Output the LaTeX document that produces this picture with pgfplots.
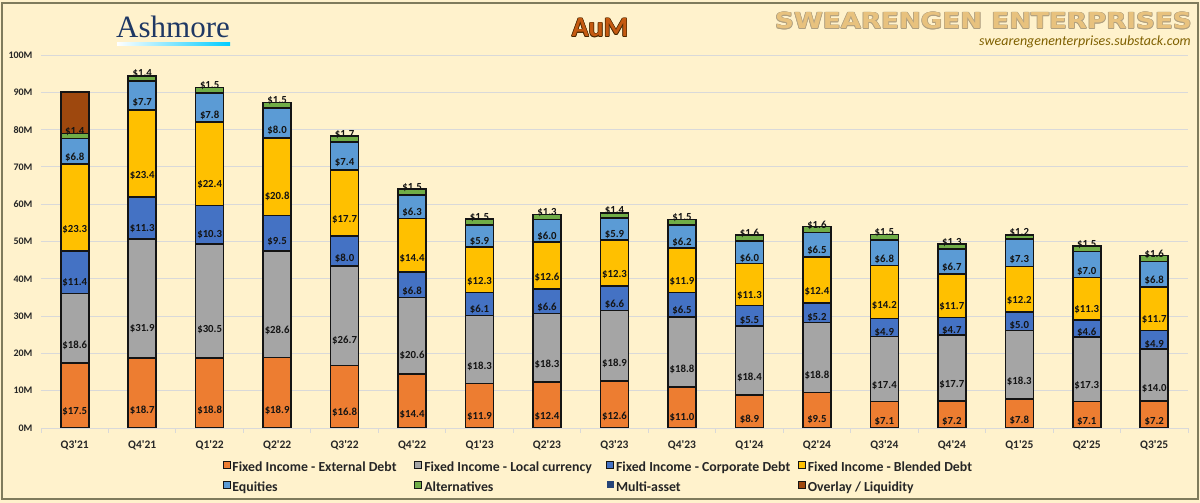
\documentclass[border=0pt]{standalone}
\usepackage{pgfplots}
\pgfplotsset{compat=1.18}
\usepackage{pgfplotstable}
\usepackage{fontspec}
\setmainfont{Carlito}
\newfontfamily\seriffont{Liberation Serif}
\newfontfamily\widefont{DejaVu Sans}
\definecolor{bg}{HTML}{FFF2CC}
\definecolor{gridc}{HTML}{D9D9D9}
\definecolor{cExt}{HTML}{ED7D31}
\definecolor{cLoc}{HTML}{A5A5A5}
\definecolor{cCorp}{HTML}{4472C4}
\definecolor{cBlend}{HTML}{FFC000}
\definecolor{cEq}{HTML}{5B9BD5}
\definecolor{cAlt}{HTML}{70AD47}
\definecolor{cMulti}{HTML}{264478}
\definecolor{cOver}{HTML}{9E480E}
\definecolor{titlec}{HTML}{C55A11}
\definecolor{titleline}{HTML}{4A2800}
\definecolor{framec}{HTML}{7F7B5C}
\definecolor{navy}{HTML}{1F3864}
\definecolor{wm}{HTML}{E8C27E}
\definecolor{wmline}{HTML}{B0A080}
\definecolor{urlc}{HTML}{7F6000}
\definecolor{tickc}{HTML}{262626}
\definecolor{barline}{HTML}{141414}

\pgfplotstableread{
x ext loc corp blend eq alt over
0 17.5 18.6 11.4 23.3 6.8 1.4 11.0
1 18.7 31.9 11.3 23.4 7.7 1.4 0
2 18.8 30.5 10.3 22.4 7.8 1.5 0
3 18.9 28.6 9.5 20.8 8.0 1.5 0
4 16.8 26.7 8.0 17.7 7.4 1.7 0
5 14.4 20.6 6.8 14.4 6.3 1.5 0
6 11.9 18.3 6.1 12.3 5.9 1.5 0
7 12.4 18.3 6.6 12.6 6.0 1.3 0
8 12.6 18.9 6.6 12.3 5.9 1.4 0
9 11.0 18.8 6.5 11.9 6.2 1.5 0
10 8.9 18.4 5.5 11.3 6.0 1.6 0
11 9.5 18.8 5.2 12.4 6.5 1.6 0
12 7.1 17.4 4.9 14.2 6.8 1.5 0
13 7.2 17.7 4.7 11.7 6.7 1.3 0
14 7.8 18.3 5.0 12.2 7.3 1.2 0
15 7.1 17.3 4.6 11.3 7.0 1.5 0
16 7.2 14.0 4.9 11.7 6.8 1.6 0
}\aum

\newcommand\q{\textquotesingle}
\newcommand\lgbox[1]{\makebox[180pt][l]{#1}}
\pgfplotsset{
  barsty/.style={draw=barline, line width=1.6pt, fill=#1,
    legend image code/.code={\draw[fill=#1, draw=barline, line width=0.8pt] (0pt,-0.5pt) rectangle (7pt,6.5pt);}},
  seg/.style={
    nodes near coords={\$\pgfplotspointmeta},
    point meta=explicit symbolic,
    every node near coord/.append style={anchor=center, yshift={-0.25*\pgfplotspointmeta*3.73pt}, font=\bfseries\fontsize{10.8}{12}\selectfont, text=barline, inner sep=1pt},
  },
}

\begin{document}
\begin{tikzpicture}
\useasboundingbox (0,0) rectangle (1200pt,503pt);
\fill[bg] (0,0) rectangle (1200pt,503pt);
\draw[framec, line width=1.5pt] (2pt,4pt) rectangle (1198pt,500pt);
% logo
\node[anchor=base west, inner sep=0, text=navy, font=\seriffont\fontsize{31}{31}\selectfont] at (116pt,465pt) {Ashmore};
\shade[left color=white, right color=cyan!80!blue] (117pt,457.5pt) rectangle (230pt,460.5pt);
% title with faux outline
\foreach \dx/\dy in {0.7/0,-0.7/0,0/0.7,0/-0.7,0.5/0.5,-0.5/0.5,0.5/-0.5,-0.5/-0.5}{
  \node[anchor=base, inner sep=0, text=titleline, font=\bfseries\fontsize{28}{28}\selectfont] at (600pt+\dx pt,466pt+\dy pt) {AuM};
}
\node[anchor=base, inner sep=0, text=titlec, font=\bfseries\fontsize{28}{28}\selectfont] at (600pt,466pt) {AuM};
% watermark
\foreach \dx/\dy in {0.7/0,-0.7/0,0/0.7,0/-0.7,0.5/0.5,-0.5/0.5,0.5/-0.5,-0.5/-0.5}{
  \node[anchor=base east, inner sep=0, text=wmline, xscale=1.19, font=\widefont\bfseries\fontsize{22}{22}\selectfont] at (1192pt+\dx pt,474pt+\dy pt) {SWEARENGEN ENTERPRISES};
}
\node[anchor=base east, inner sep=0, text=wm, xscale=1.19, font=\widefont\bfseries\fontsize{22}{22}\selectfont] at (1192pt,474pt) {SWEARENGEN ENTERPRISES};
\node[anchor=base east, inner sep=0, text=urlc, font=\itshape\fontsize{14}{14}\selectfont] at (1191pt,457pt) {swearengenenterprises.substack.com};

\begin{axis}[
  at={(41pt,75pt)}, anchor=south west,
  width=1147pt, height=373pt, scale only axis,
  xmin=-0.5, xmax=16.5, ymin=0, ymax=100,
  ybar stacked, bar width=28pt,
  xtick={0,...,16},
  xticklabels={Q3\q21,Q4\q21,Q1\q22,Q2\q22,Q3\q22,Q4\q22,Q1\q23,Q2\q23,Q3\q23,Q4\q23,Q1\q24,Q2\q24,Q3\q24,Q4\q24,Q1\q25,Q2\q25,Q3\q25},
  ytick={0,10,...,100},
  yticklabels={0M,10M,20M,30M,40M,50M,60M,70M,80M,90M,100M},
  ymajorgrids, grid style={gridc, line width=0.9pt},
  axis x line*=bottom, axis y line*=left,
  x axis line style={gridc, line width=0.9pt, -},
  y axis line style={draw=none},
  major tick length=0pt,
  minor xtick={-0.5,0.5,...,16.5},
  minor tick length=5pt,
  tick align=outside,
  minor tick style={gridc, line width=0.9pt},
  x tick label style={font=\bfseries\fontsize{11.5}{12}\selectfont, text=tickc, yshift=-9pt},
  y tick label style={font=\bfseries\fontsize{10}{12}\selectfont, text=tickc, xshift=-5pt},
  legend columns=4,
  legend cell align=left,
  legend style={at={(0.1582,-0.085)}, anchor=north west, draw=none, fill=none,
    font=\bfseries\fontsize{13.8}{15}\selectfont, text=tickc,
    inner sep=0pt, row sep=5pt,
    nodes={inner sep=2pt}},
]
\addplot[barsty=cExt, seg] table[x=x,y=ext,meta=ext]{\aum};
\addplot[barsty=cLoc, seg] table[x=x,y=loc,meta=loc]{\aum};
\addplot[barsty=cCorp, seg] table[x=x,y=corp,meta=corp]{\aum};
\addplot[barsty=cBlend, seg] table[x=x,y=blend,meta=blend]{\aum};
\addplot[barsty=cEq, seg] table[x=x,y=eq,meta=eq]{\aum};
\addplot[barsty=cAlt, nodes near coords={\$\pgfplotspointmeta}, point meta=explicit symbolic,
  every node near coord/.append style={anchor=base, yshift=1.5pt, font=\bfseries\fontsize{10.8}{12}\selectfont, text=barline, inner sep=1pt}] table[x=x,y=alt,meta=alt]{\aum};
\addlegendimage{legend image code/.code={\fill[cMulti] (0.5pt,0pt) rectangle (6.5pt,6pt);}}
\addplot[barsty=cOver] table[x=x,y=over]{\aum};
\legend{\lgbox{Fixed Income - External Debt},\lgbox{Fixed Income - Local currency},\lgbox{Fixed Income - Corporate Debt},\lgbox{Fixed Income - Blended Debt},\lgbox{Equities},\lgbox{Alternatives},\lgbox{Multi-asset},\lgbox{Overlay / Liquidity}}
\end{axis}
\end{tikzpicture}
\end{document}
